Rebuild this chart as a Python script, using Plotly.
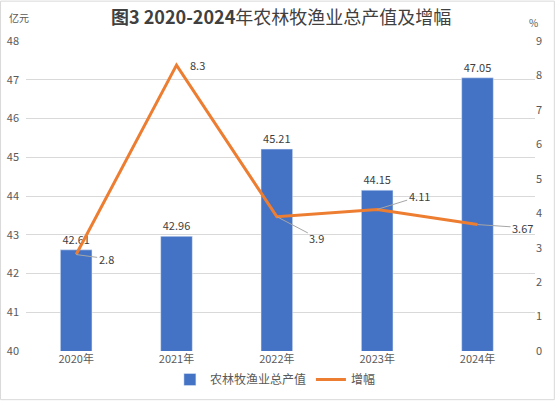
import plotly.graph_objects as go

years = ["2020年", "2021年", "2022年", "2023年", "2024年"]
output_value = [42.61, 42.96, 45.21, 44.15, 47.05]
growth = [2.8, 8.3, 3.9, 4.11, 3.67]
growth_label_offsets = [(30, 4), (21, 0), (40, 21), (42, -13), (45, 3)]
growth_leader = [True, False, True, True, True]

FONT = "Noto Sans CJK SC, Microsoft YaHei, sans-serif"
GRAY = "#595959"

fig = go.Figure()
fig.add_trace(go.Bar(
    x=years, y=output_value, name="农林牧渔业总产值",
    marker=dict(color="#4472C4"),
    text=[f"{v:.2f}" for v in output_value], textposition="outside",
    textfont=dict(size=11, color="#404040"), cliponaxis=False,
))
fig.add_trace(go.Scatter(
    x=years, y=growth, name="增幅", yaxis="y2", mode="lines",
    line=dict(color="#ED7D31", width=3),
))

for xv, yv, (ax, ay), lead in zip(years, growth, growth_label_offsets, growth_leader):
    fig.add_annotation(
        x=xv, y=yv, xref="x", yref="y2", text=f"{yv:g}",
        showarrow=True, arrowhead=0, arrowwidth=1,
        arrowcolor="#A6A6A6" if lead else "rgba(0,0,0,0)",
        ax=ax, ay=ay, font=dict(size=11, color="#404040"),
        standoff=0, startstandoff=0,
    )

fig.update_layout(
    width=556, height=406,
    margin=dict(l=26, r=21, t=41, b=50),
    paper_bgcolor="white", plot_bgcolor="white",
    font=dict(family=FONT, color=GRAY, size=11),
    bargap=0.685,
    showlegend=True,
    legend=dict(orientation="h", x=0.49, xanchor="center", y=-0.092, yanchor="middle",
                font=dict(size=12, color=GRAY), itemwidth=30, traceorder="normal"),
    xaxis=dict(showgrid=False, showline=False, ticks="", tickfont=dict(size=11, color=GRAY),
               automargin=False),
    yaxis=dict(range=[40, 48], dtick=1, showgrid=True, gridcolor="#D9D9D9", gridwidth=1,
               zeroline=False, showline=False, tickfont=dict(size=11, color=GRAY),
               automargin=False, ticklabelstandoff=6),
    yaxis2=dict(range=[0, 9], dtick=1, overlaying="y", side="right", showgrid=False,
                zeroline=False, showline=False, tickfont=dict(size=11, color=GRAY),
                automargin=False, ticklabelstandoff=0),
)

fig.add_annotation(xref="paper", yref="paper", x=0.5, y=1.0, yshift=25, xanchor="center", yanchor="middle",
                   text="<b>图3 2020-2024</b>年农林牧渔业总产值及增幅", showarrow=False,
                   font=dict(size=18, color="#404040"))
fig.add_annotation(xref="paper", yref="paper", x=-0.038, y=1.0, yshift=24, xanchor="left", yanchor="middle",
                   text="亿元", showarrow=False, font=dict(size=10, color=GRAY))
fig.add_annotation(xref="paper", yref="paper", x=0.985, y=1.0, yshift=19, xanchor="left", yanchor="middle",
                   text="%", showarrow=False, font=dict(size=10, color=GRAY))

fig.add_shape(type="rect", xref="paper", yref="paper", x0=-0.05, x1=1.038, y0=-0.157, y1=1.1286,
              line=dict(color="#D9D9D9", width=1), fillcolor="rgba(0,0,0,0)", layer="below")

fig.write_html(
    "out.html",
    config={"displayModeBar": False},
    post_script=(
        "document.documentElement.style.margin='0';"
        "document.body.style.margin='0';"
    ),
)
